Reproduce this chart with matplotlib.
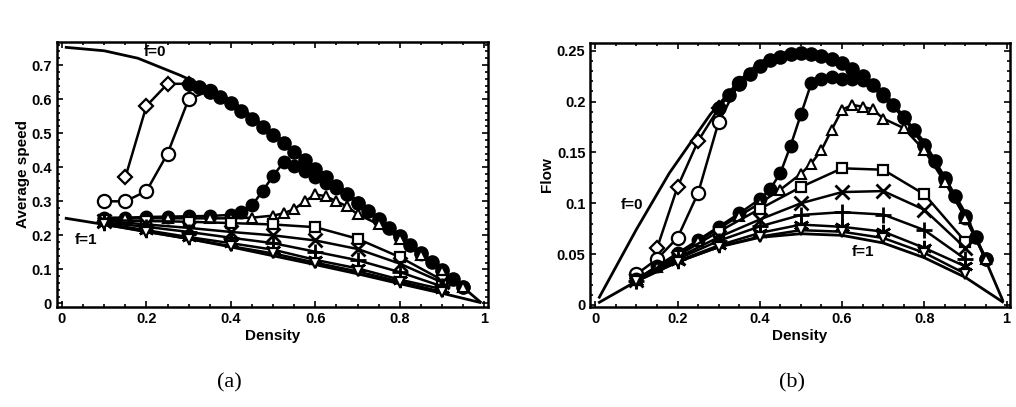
import numpy as np
import matplotlib
matplotlib.use("Agg")
import matplotlib.pyplot as plt
from matplotlib.ticker import MultipleLocator

plt.rcParams['font.family'] = ['Liberation Sans', 'DejaVu Sans']
plt.rcParams['font.weight'] = 'bold'

# limit curves f=0 and f=1 (average speed vs density)
rho_f0 = [0.01, 0.1, 0.18, 0.28, 0.35, 0.4, 0.45, 0.5, 0.6, 0.7, 0.8, 0.9, 0.99]
v_f0 = [0.752, 0.742, 0.72, 0.67, 0.63, 0.597, 0.55, 0.5, 0.4, 0.3, 0.2, 0.1, 0.005]
rho_f1 = [0.01, 0.1, 0.2, 0.3, 0.4, 0.5, 0.6, 0.7, 0.8, 0.9, 0.99]
v_f1 = [0.25, 0.232, 0.212, 0.19, 0.166, 0.14, 0.114, 0.087, 0.058, 0.03, 0.003]

# simulated series (average speed)
rho_dia = [0.15, 0.2, 0.25, 0.3]
v_dia = [0.37, 0.58, 0.645, 0.645]

rho_circ = [0.1, 0.15, 0.2, 0.25, 0.3, 0.35]
v_circ = [0.30, 0.30, 0.33, 0.44, 0.60, 0.625]

rho_top = [0.3, 0.325, 0.35, 0.375, 0.4, 0.425, 0.45, 0.475, 0.5, 0.525, 0.55,
           0.575, 0.6, 0.625, 0.65, 0.675, 0.7, 0.725, 0.75, 0.775, 0.8, 0.825,
           0.85, 0.875, 0.9, 0.925, 0.95]
v_top = [0.645, 0.635, 0.622, 0.606, 0.588, 0.566, 0.543, 0.519, 0.495, 0.47, 0.446,
         0.421, 0.396, 0.371, 0.346, 0.321, 0.296, 0.272, 0.247, 0.222, 0.197, 0.172,
         0.147, 0.122, 0.097, 0.072, 0.048]

rho_dot2 = [0.1, 0.15, 0.2, 0.25, 0.3, 0.35, 0.4, 0.425, 0.45, 0.475, 0.5, 0.525,
            0.55, 0.575, 0.6, 0.625, 0.65, 0.7, 0.75, 0.8, 0.85, 0.9, 0.95]
v_dot2 = [0.252, 0.252, 0.254, 0.255, 0.256, 0.257, 0.26, 0.268, 0.288, 0.33, 0.375,
          0.415, 0.405, 0.39, 0.37, 0.355, 0.34, 0.294, 0.245, 0.195, 0.145, 0.095, 0.047]

rho_tri = [0.1, 0.15, 0.2, 0.25, 0.3, 0.35, 0.4, 0.45, 0.5, 0.525, 0.55, 0.575,
           0.6, 0.625, 0.65, 0.675, 0.7, 0.75, 0.8, 0.85, 0.9, 0.95]
v_tri = [0.25, 0.25, 0.25, 0.25, 0.25, 0.25, 0.25, 0.252, 0.258, 0.265, 0.277, 0.30,
         0.32, 0.315, 0.30, 0.285, 0.262, 0.232, 0.19, 0.142, 0.095, 0.047]

rho_low = [0.1, 0.2, 0.3, 0.4, 0.5, 0.6, 0.7, 0.8, 0.9]
v_sq = [0.245, 0.242, 0.24, 0.236, 0.232, 0.224, 0.19, 0.136, 0.069]
v_x = [0.243, 0.232, 0.222, 0.21, 0.2, 0.185, 0.16, 0.117, 0.062]
v_plus = [0.238, 0.225, 0.21, 0.193, 0.177, 0.152, 0.127, 0.092, 0.05]
v_ast = [0.235, 0.215, 0.195, 0.177, 0.158, 0.128, 0.103, 0.07, 0.042]
v_star = [0.232, 0.21, 0.19, 0.168, 0.147, 0.12, 0.094, 0.064, 0.034]

series = [
    (rho_dia, v_dia, dict(marker='D', ms=7, mfc='white', mew=1.6)),
    (rho_circ, v_circ, dict(marker='o', ms=9.5, mfc='white', mew=1.6)),
    (rho_top, v_top, dict(marker='o', ms=9.5, mfc='black')),
    (rho_dot2, v_dot2, dict(marker='o', ms=9, mfc='black')),
    (rho_tri, v_tri, dict(marker='^', ms=7, mfc='white', mew=1.5)),
    (rho_low, v_sq, dict(marker='s', ms=7.5, mfc='white', mew=1.6)),
    (rho_low, v_x, dict(marker='x', ms=10, mew=2)),
    (rho_low, v_plus, dict(marker='+', ms=11, mew=2)),
    (rho_low, v_ast, dict(marker=(6, 2, 0), ms=11, mew=1.8)),
    (rho_low, v_star, dict(marker='v', ms=7.5, mfc='white', mew=1.6)),
]

fig = plt.figure(figsize=(10.16, 4.07), dpi=100)
axa = fig.add_axes([0.056, 0.246, 0.424, 0.651])
axb = fig.add_axes([0.581, 0.246, 0.413, 0.649])

for ax, flow in ((axa, False), (axb, True)):
    def y(r, v):
        r = np.asarray(r); v = np.asarray(v)
        return r * v if flow else v
    ax.plot(rho_f0, y(rho_f0, v_f0), color='black', lw=2)
    ax.plot(rho_f1, y(rho_f1, v_f1), color='black', lw=2)
    for r, v, st in series:
        ax.plot(r, y(r, v), color='black', lw=1.8, mec='black', **st)
    ax.set_xlim(-0.012, 1.008)
    ax.xaxis.set_minor_locator(MultipleLocator(0.05))
    ax.tick_params(which='both', direction='in', top=True, right=True, width=1.2)
    ax.tick_params(which='major', length=4, labelsize=10.5)
    ax.tick_params(which='minor', length=2)
    for s in ax.spines.values():
        s.set_linewidth(1.8)
    ax.set_xticks([0, 0.2, 0.4, 0.6, 0.8, 1.0])
    ax.set_xticklabels(['0', '0.2', '0.4', '0.6', '0.8', '1'], fontweight='bold')
    ax.set_xlabel('Density', fontsize=11, fontweight='bold', labelpad=2)

axa.set_ylim(-0.01, 0.768)
axa.yaxis.set_minor_locator(MultipleLocator(0.02))
axa.set_yticks([0, 0.1, 0.2, 0.3, 0.4, 0.5, 0.6, 0.7])
axa.set_yticklabels(['0', '0.1', '0.2', '0.3', '0.4', '0.5', '0.6', '0.7'], fontweight='bold')
axa.set_ylabel('Average speed', fontsize=11, fontweight='bold', labelpad=1)
axa.text(0.22, 0.737, 'f=0', fontsize=11, fontweight='bold', ha='center', va='center')
axa.text(0.057, 0.185, 'f=1', fontsize=11, fontweight='bold', ha='center', va='center')

axb.set_ylim(-0.002, 0.258)
axb.yaxis.set_minor_locator(MultipleLocator(0.01))
axb.set_yticks([0, 0.05, 0.1, 0.15, 0.2, 0.25])
axb.set_yticklabels(['0', '0.05', '0.1', '0.15', '0.2', '0.25'], fontweight='bold')
axb.set_ylabel('Flow', fontsize=11, fontweight='bold', labelpad=2)
axb.text(0.09, 0.098, 'f=0', fontsize=11, fontweight='bold', ha='center', va='center')
axb.text(0.65, 0.052, 'f=1', fontsize=11, fontweight='bold', ha='center', va='center')

fig.text(229 / 1016, 1 - 383 / 407, '(a)', fontsize=16, ha='center', va='center',
         family='Liberation Serif', weight='normal')
fig.text(792 / 1016, 1 - 383 / 407, '(b)', fontsize=16, ha='center', va='center',
         family='Liberation Serif', weight='normal')

fig.savefig('out.png', dpi=100)
